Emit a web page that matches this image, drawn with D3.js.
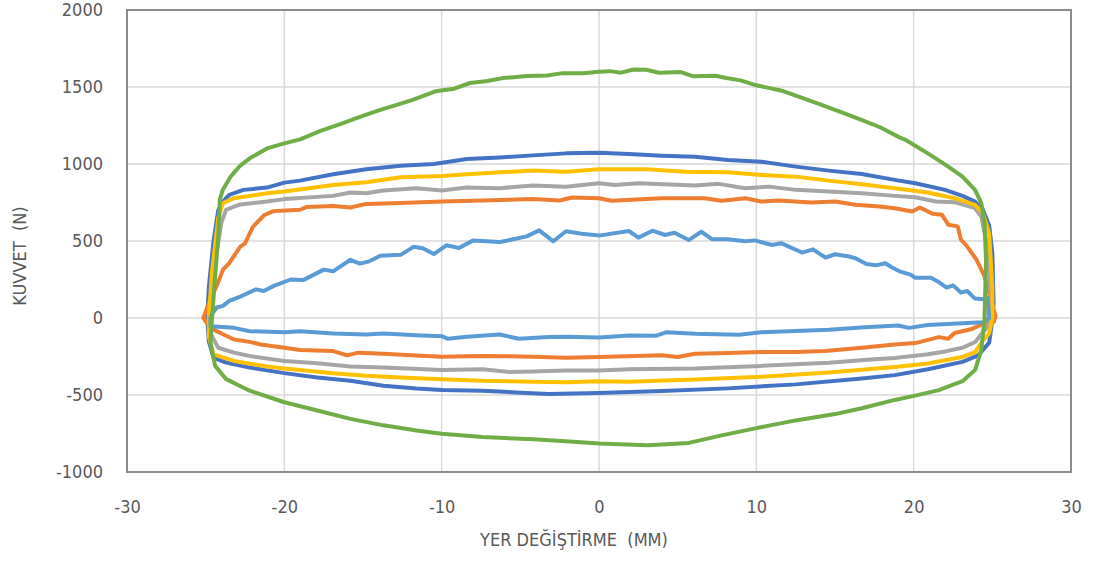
<!DOCTYPE html>
<html>
<head>
<meta charset="utf-8">
<script src="https://cdn.jsdelivr.net/npm/d3@7"></script>
<style>
  html, body { margin: 0; padding: 0; background: #fff; }
  text { font-family: "Liberation Sans Narrow", "DejaVu Sans Condensed", "Open Sans", sans-serif; fill: #595959; }
</style>
</head>
<body>
<svg id="chart" width="1094" height="561"></svg>
<script>
// ---- data (x: displacement mm, y: force N), each loop traced in order ----
const xTicks = [-30, -20, -10, 0, 10, 20, 30];
const yTicks = [-1000, -500, 0, 500, 1000, 1500, 2000];
const xTitle = "YER DEĞİŞTİRME  (MM)";
const yTitle = "KUVVET  (N)";

const series1 = [[-24.9,0],[-24.8,200],[-24.5,500],[-24.2,700],[-23.9,756],[-23.5,800],[-22.6,832],[-21.1,847],[-20,879],[-19,892],[-16.9,933],[-14.8,966],[-12.6,989],[-10.5,1000],[-8.4,1032],[-6.3,1043],[-4.2,1056],[-2.1,1069],[0,1073],[1.9,1065],[4.0,1054],[6.1,1047],[8.2,1026],[10.3,1015],[12.5,983],[14.6,957],[16.7,935],[18.8,897],[20.1,875],[22.0,832],[23.1,793],[23.9,756],[24.4,703],[24.8,600],[25.0,420],[25.08,100],[24.97,-35],[24.8,-160],[24.1,-243],[23.1,-285],[20.9,-333],[18.8,-371],[16.7,-393],[12.5,-431],[8.2,-457],[4.0,-474],[0,-487],[-3.2,-494],[-5.3,-483],[-7.4,-472],[-10,-468],[-11.6,-458],[-13.7,-440],[-15.8,-408],[-17.9,-386],[-20,-358],[-22.2,-322],[-23.7,-290],[-24.5,-258],[-24.8,-150],[-24.9,0]];

const series2 = [[-25.15,0],[-24.7,122],[-24.3,207],[-23.9,314],[-23.5,357],[-22.8,464],[-22.5,485],[-22.0,592],[-21.3,667],[-20.7,694],[-19.6,699],[-19.0,703],[-18.6,720],[-16.9,728],[-15.8,718],[-14.8,741],[-12.6,746],[-10,756],[-7.4,763],[-4.2,772],[-2.5,763],[-1.7,782],[0,778],[0.8,761],[4.0,778],[6.7,778],[7.8,761],[9.3,778],[10.3,756],[11.4,763],[13.5,750],[15.0,756],[16.3,735],[17.8,724],[18.8,713],[19.9,692],[20.4,718],[21.2,677],[21.8,670],[22.2,606],[22.8,595],[23.0,510],[23.4,464],[24.0,378],[24.5,271],[24.9,122],[25.2,15],[25.1,-24],[24.4,-39],[23.7,-71],[22.6,-97],[22.2,-135],[21.6,-124],[20.1,-163],[18.8,-172],[16.7,-193],[14.4,-215],[12.5,-221],[10.3,-221],[8.2,-227],[6.1,-232],[5.0,-253],[4.0,-242],[0,-253],[-2.1,-258],[-4.2,-251],[-7.4,-247],[-10,-251],[-11.6,-243],[-13.7,-232],[-15.3,-225],[-16.0,-243],[-16.9,-215],[-19,-208],[-20,-193],[-21.5,-172],[-22.2,-155],[-23.2,-140],[-24.0,-101],[-24.7,-64],[-25.15,0]];

const series3 = [[-24.8,0],[-24.5,300],[-24.0,620],[-23.7,703],[-22.9,735],[-21.1,756],[-20,772],[-16.9,793],[-15.8,815],[-14.8,810],[-13.7,828],[-11.6,843],[-10,828],[-8.4,847],[-6.3,843],[-4.2,860],[-2.1,853],[0,875],[1.0,864],[2.5,875],[6.1,860],[7.6,871],[9.3,843],[10.8,853],[12.5,832],[14.6,821],[16.7,810],[18.8,793],[20.1,784],[21.4,756],[22.6,752],[23.9,713],[24.3,659],[24.7,450],[24.9,150],[24.9,0],[24.7,-60],[24.4,-92],[23.9,-157],[23.1,-193],[22.0,-217],[20.9,-236],[18.8,-260],[17.3,-270],[14.6,-290],[10.3,-311],[6.1,-328],[1.9,-333],[0,-341],[-2.1,-341],[-4.2,-348],[-5.7,-350],[-7.4,-333],[-10,-337],[-13.7,-322],[-15.8,-315],[-17.9,-294],[-20,-279],[-22.2,-247],[-23.2,-225],[-24.2,-193],[-24.7,-100],[-24.8,0]];

const series4 = [[-24.8,0],[-24.6,300],[-24.2,650],[-23.9,746],[-23.2,778],[-21.1,810],[-20,821],[-16.9,864],[-14.8,881],[-12.6,914],[-10,922],[-8.4,933],[-6.3,946],[-4.2,957],[-2.1,950],[0,966],[3.0,966],[5.5,950],[8.2,946],[10.3,929],[12.5,918],[14.6,892],[16.7,869],[18.8,843],[20.9,815],[22.6,778],[23.9,735],[24.4,681],[24.8,550],[25.0,200],[25.0,0],[24.8,-100],[24.4,-146],[23.9,-221],[23.1,-253],[20.9,-296],[18.8,-318],[14.6,-354],[10.3,-382],[6.1,-399],[1.9,-414],[0,-410],[-2.1,-418],[-4.2,-414],[-7.4,-408],[-10,-397],[-12.6,-386],[-14.8,-375],[-16.9,-358],[-19,-337],[-20,-328],[-21.1,-315],[-23.2,-279],[-24.5,-236],[-24.8,-120],[-24.8,0]];

const series5 = [[-24.7,0],[-24.6,26],[-24.3,68],[-23.9,79],[-23.5,111],[-22.8,139],[-21.8,186],[-21.3,175],[-20.7,207],[-19.6,250],[-18.8,246],[-17.9,293],[-17.5,314],[-16.9,303],[-15.8,378],[-15.2,353],[-14.6,368],[-13.9,404],[-12.6,410],[-11.8,462],[-11.2,453],[-10.5,415],[-9.7,472],[-8.9,455],[-8.0,504],[-6.3,493],[-4.6,530],[-3.8,569],[-2.9,498],[-2.1,563],[-1.1,547],[0,535],[1.9,565],[2.5,522],[3.4,567],[4.2,539],[4.8,554],[5.7,506],[6.5,560],[7.2,511],[8.2,511],[9.3,498],[9.9,504],[11.0,474],[11.6,485],[12.9,425],[13.6,446],[14.4,392],[15.0,414],[15.9,399],[16.3,388],[17.0,350],[17.6,342],[18.2,355],[18.6,330],[19.1,303],[19.8,282],[20.1,261],[21.1,261],[21.5,239],[22.1,197],[22.5,212],[23.0,165],[23.4,175],[23.9,126],[24.5,122],[24.7,130],[24.8,0],[24.4,-28],[23.1,-34],[20.9,-45],[19.7,-64],[19.0,-49],[16.9,-60],[14.6,-77],[12.5,-84],[10.3,-92],[8.9,-109],[6.1,-103],[4.3,-92],[3.6,-116],[1.9,-114],[0,-127],[-2.1,-122],[-3.2,-124],[-5.1,-135],[-6.3,-107],[-8.4,-122],[-9.6,-135],[-10,-118],[-11.6,-112],[-13.7,-101],[-14.8,-107],[-16.9,-101],[-19,-86],[-20,-92],[-22.2,-86],[-23.2,-64],[-24.7,-54],[-24.7,0]];

const series6 = [[-24.6,-13],[-24.45,203],[-24.2,528],[-24.1,770],[-23.9,835],[-23.4,920],[-22.8,990],[-22.2,1037],[-21.1,1101],[-20,1134],[-19,1160],[-17.7,1215],[-16.4,1260],[-15.2,1306],[-13.9,1351],[-12.6,1392],[-11.8,1418],[-10.4,1472],[-9.2,1489],[-8.2,1526],[-7.1,1539],[-6.1,1558],[-4.6,1571],[-3.3,1575],[-2.3,1590],[-1.0,1590],[0,1599],[0.7,1603],[1.4,1593],[2.2,1614],[3.0,1612],[3.8,1593],[5.2,1597],[6.0,1569],[7.4,1573],[8.1,1558],[9.0,1543],[10.0,1511],[10.7,1496],[11.7,1474],[12.6,1440],[14.1,1385],[15.3,1340],[16.6,1290],[17.9,1237],[19.1,1173],[19.5,1156],[20.9,1069],[22.2,983],[23.1,918],[23.9,832],[24.3,746],[24.5,616],[24.6,379],[24.5,-13],[24.3,-208],[23.9,-338],[23.1,-410],[21.6,-468],[20.1,-504],[18.8,-532],[16.7,-586],[15.0,-624],[12.5,-665],[10.0,-715],[7.8,-762],[5.7,-811],[3.1,-826],[0,-815],[-2.1,-800],[-4.2,-788],[-7.4,-773],[-10,-751],[-11.6,-730],[-13.7,-697],[-15.8,-655],[-17.9,-601],[-20,-547],[-22.2,-472],[-23.7,-397],[-24.4,-311],[-24.7,-161],[-24.6,-13]];

const seriesList = [series1, series2, series3, series4, series5, series6];
const colors = ["#4472C4", "#ED7D31", "#A5A5A5", "#FFC000", "#5B9BD5", "#70AD47"];

// ---- layout ----
const svg = d3.select("#chart");
const L = 127, R = 1071, T = 10, B = 472;
const x = d3.scaleLinear().domain([-30, 30]).range([L, R]);
const y = d3.scaleLinear().domain([-1000, 2000]).range([B, T]);

// gridlines
const grid = svg.append("g");
grid.selectAll("line.v").data(xTicks).join("line")
  .attr("x1", d => x(d)).attr("x2", d => x(d))
  .attr("y1", T).attr("y2", B)
  .attr("stroke", "#D9D9D9").attr("stroke-width", 1.5);
grid.selectAll("line.h").data(yTicks).join("line")
  .attr("x1", L).attr("x2", R)
  .attr("y1", d => y(d)).attr("y2", d => y(d))
  .attr("stroke", "#D9D9D9").attr("stroke-width", 1.5);

// plot border
svg.append("rect").attr("x", L).attr("y", T).attr("width", R - L).attr("height", B - T)
  .attr("fill", "none").attr("stroke", "#8C8C8C").attr("stroke-width", 2);

// axes labels via d3 axes
const fmt = d => String(d);
const xAxis = svg.append("g").attr("transform", `translate(0,${B})`)
  .call(d3.axisBottom(x).tickValues(xTicks).tickSize(0).tickPadding(28).tickFormat(fmt));
const yAxis = svg.append("g").attr("transform", `translate(${L},0)`)
  .call(d3.axisLeft(y).tickValues(yTicks).tickSize(0).tickPadding(24).tickFormat(fmt));
[xAxis, yAxis].forEach(a => {
  a.select(".domain").remove();
  a.selectAll("text").style("font-size", "18px").attr("fill", "#595959");
});

// series
const line = d3.line().x(d => x(d[0])).y(d => y(d[1]));
svg.append("g").selectAll("path").data(seriesList).join("path")
  .attr("d", d => line(d))
  .attr("fill", "none")
  .attr("stroke", (d, i) => colors[i])
  .attr("stroke-width", 4)
  .attr("stroke-linejoin", "round")
  .attr("stroke-linecap", "round");

// axis titles
svg.append("text").attr("x", 574).attr("y", 546).attr("text-anchor", "middle")
  .style("font-size", "18px").style("white-space", "pre").text(xTitle);
svg.append("text").attr("transform", "translate(26,256) rotate(-90)").attr("text-anchor", "middle")
  .style("font-size", "18px").style("white-space", "pre").text(yTitle);
</script>
</body>
</html>
